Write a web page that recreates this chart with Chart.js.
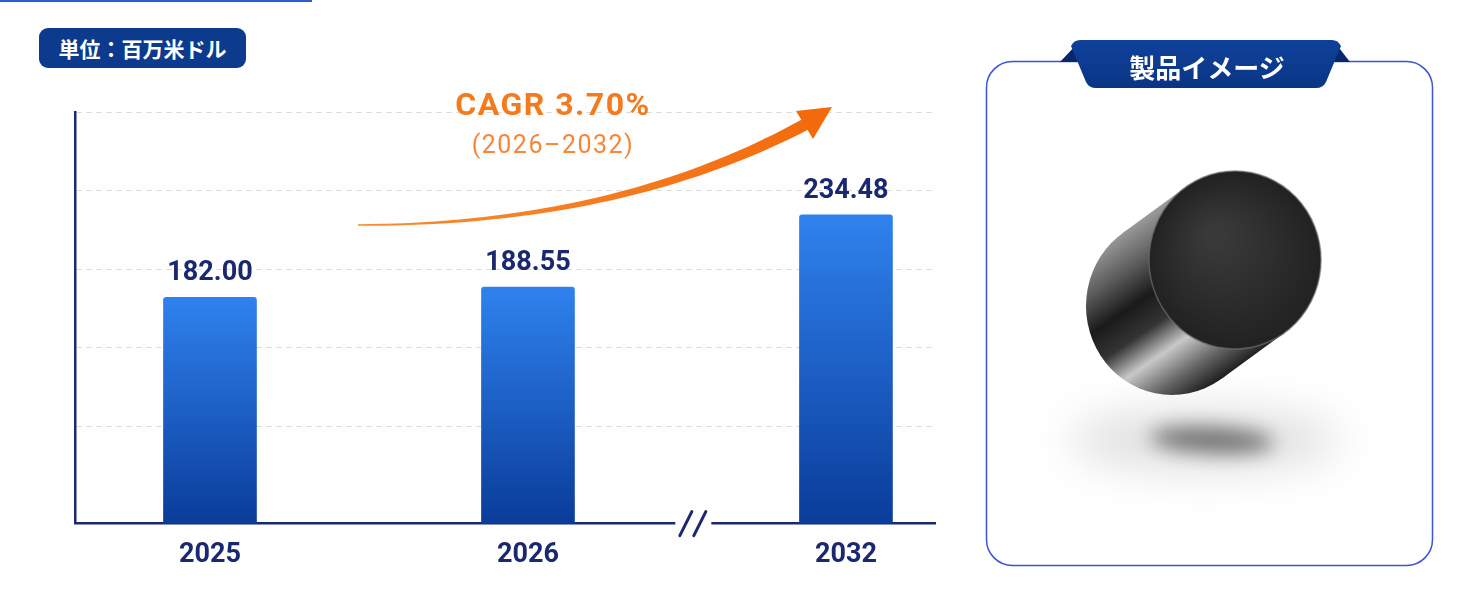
<!DOCTYPE html>
<html lang="ja">
<head>
<meta charset="utf-8">
<script src="https://cdn.jsdelivr.net/npm/chart.js@4"></script>
<style>
  body { margin: 0; background: #fefefe; width: 1462px; height: 599px; overflow: hidden; position: relative; font-family: Roboto, "Noto Sans CJK JP", sans-serif; }
  .topline { position: absolute; left: 0; top: 0; width: 312px; height: 2px; background: #2d5bd2; }
  .unit { position: absolute; left: 39px; top: 28px; width: 207px; height: 40px; border-radius: 9px; background: #0c3a8d;
          color: #fff; font: bold 21px "Noto Sans CJK JP", sans-serif; line-height: 40px; text-align: center; }
  #chart { position: absolute; left: 0; top: 0; }
  #product { position: absolute; left: 986px; top: 100px; }
  svg { position: absolute; left: 0; top: 0; }
</style>
</head>
<body>
<div class="topline"></div>
<div class="unit">単位：百万米ドル</div>
<canvas id="chart" width="970" height="599"></canvas>

<svg width="1462" height="599">
  <rect x="986.5" y="61.5" width="446" height="504" rx="26" fill="#fff" stroke="#3d52d5" stroke-width="1.5"/>
</svg>
<canvas id="product" width="448" height="440"></canvas>
<svg width="1462" height="599">
  <defs>
    <linearGradient id="tabFill" x1="0" y1="0" x2="0" y2="1">
      <stop offset="0" stop-color="#0f419a"/>
      <stop offset="1" stop-color="#0a3584"/>
    </linearGradient>
  </defs>
  <polygon points="1060,62 1082,62 1077,44" fill="#07296c"/>
  <polygon points="1350,62 1328,62 1336,44" fill="#07296c"/>
  <path d="M1080,40 L1332,40 Q1338,40 1341,46 L1326,82 Q1323,88 1316,88 L1096,88 Q1089,88 1086,82 L1071,46 Q1074,40 1080,40 Z" fill="url(#tabFill)"/>
  <text x="1207" y="66" fill="#fff" font-family="Noto Sans CJK JP, sans-serif" font-weight="bold" font-size="26"
        text-anchor="middle" dominant-baseline="central">製品イメージ</text>
</svg>

<script>
// chart values
const categories = ['2025', '2026', '2032'];
const marketValues = [182.00, 188.55, 234.48];
const gridValues = [100, 150, 200, 250, 300];
const cagrLabel = 'CAGR 3.70%';
const cagrPeriod = '(2026–2032)';

const NAVY = '#1a2870';
const ORANGE = '#f47a1e';

// bar fill: bright blue at the top of each bar, deep blue at the base
function barGradient(context) {
  const chart = context.chart;
  const yScale = chart.scales.y;
  if (!yScale || !context.raw) return '#1f63d6';
  const top = yScale.getPixelForValue(context.raw.y);
  const base = yScale.getPixelForValue(yScale.min);
  if (!isFinite(top) || !isFinite(base) || top === base) return '#1f63d6';
  const g = chart.ctx.createLinearGradient(0, top, 0, base);
  g.addColorStop(0, '#2f82ee');
  g.addColorStop(1, '#0a3c9a');
  return g;
}

// value labels above bars
const valueLabels = {
  id: 'valueLabels',
  afterDatasetsDraw(chart) {
    const ctx = chart.ctx;
    const meta = chart.getDatasetMeta(0);
    ctx.save();
    ctx.font = 'bold 27px Roboto';
    ctx.fillStyle = NAVY;
    ctx.textAlign = 'center';
    ctx.textBaseline = 'alphabetic';
    meta.data.forEach((bar, i) => {
      ctx.fillText(marketValues[i].toFixed(2), bar.x, bar.y - 17);
    });
    ctx.restore();
  }
};

// "//" break on the x axis between 2026 and 2032
const axisBreak = {
  id: 'axisBreak',
  afterDraw(chart) {
    const ctx = chart.ctx;
    const x = chart.scales.x.getPixelForValue(1.52);
    const y = chart.chartArea.bottom;
    ctx.save();
    ctx.fillStyle = '#fefefe';
    ctx.fillRect(x - 18, y - 4, 36, 8);
    ctx.strokeStyle = NAVY;
    ctx.lineWidth = 3;
    ctx.lineCap = 'round';
    ctx.beginPath();
    ctx.moveTo(x - 13.5, y + 12); ctx.lineTo(x - 1.5, y - 12);
    ctx.moveTo(x + 0.5, y + 12); ctx.lineTo(x + 12.5, y - 12);
    ctx.stroke();
    ctx.restore();
  }
};

// CAGR arrow and text
const cagrArrow = {
  id: 'cagrArrow',
  afterDraw(chart) {
    const ctx = chart.ctx;
    const p0 = { x: 358, y: 225 }, p1 = { x: 618, y: 225 }, p2 = { x: 806, y: 124 };
    const pt = t => ({
      x: (1 - t) * (1 - t) * p0.x + 2 * (1 - t) * t * p1.x + t * t * p2.x,
      y: (1 - t) * (1 - t) * p0.y + 2 * (1 - t) * t * p1.y + t * t * p2.y
    });
    const left = [], right = [];
    const n = 40;
    for (let i = 0; i <= n; i++) {
      const t = i / n;
      const a = pt(Math.max(0, t - 0.01)), b = pt(Math.min(1, t + 0.01));
      const dx = b.x - a.x, dy = b.y - a.y, len = Math.hypot(dx, dy);
      const nx = -dy / len, ny = dx / len;
      const w = 0.8 + 5.2 * Math.pow(t, 1.3);
      const p = pt(t);
      left.push({ x: p.x + nx * w, y: p.y + ny * w });
      right.push({ x: p.x - nx * w, y: p.y - ny * w });
    }
    ctx.save();
    const grad = ctx.createLinearGradient(358, 0, 832, 0);
    grad.addColorStop(0, '#f98d32');
    grad.addColorStop(1, '#f26a0c');
    ctx.fillStyle = grad;
    ctx.beginPath();
    left.forEach((p, i) => i ? ctx.lineTo(p.x, p.y) : ctx.moveTo(p.x, p.y));
    for (let i = right.length - 1; i >= 0; i--) ctx.lineTo(right[i].x, right[i].y);
    ctx.closePath();
    ctx.fill();
    // head
    ctx.fillStyle = '#f26a0c';
    ctx.beginPath();
    ctx.moveTo(832, 107);
    ctx.lineTo(796, 111);
    ctx.lineTo(813, 139);
    ctx.closePath();
    ctx.fill();

    ctx.textAlign = 'center';
    ctx.textBaseline = 'alphabetic';
    ctx.fillStyle = ORANGE;
    ctx.font = 'bold 32px Roboto';
    ctx.letterSpacing = '1.5px';
    ctx.fillText(cagrLabel, 553, 115);
    ctx.font = '25px Roboto';
    ctx.fillStyle = '#f5863a';
    ctx.letterSpacing = '1.5px';
    ctx.fillText(cagrPeriod, 553, 153);
    ctx.restore();
  }
};

// product image: dark cylinder floating above its shadow
function drawProduct() {
  const c = document.getElementById('product');
  const g = c.getContext('2d');
  g.translate(-986, -100);

  // shadow
  g.save();
  g.filter = 'blur(22px)';
  g.fillStyle = 'rgba(0,0,0,0.13)';
  g.beginPath(); g.ellipse(1205, 440, 135, 30, 0, 0, Math.PI * 2); g.fill();
  g.filter = 'blur(10px)';
  g.fillStyle = 'rgba(0,0,0,0.5)';
  g.beginPath(); g.ellipse(1212, 440, 62, 13, 0.05, 0, Math.PI * 2); g.fill();
  g.restore();

  const F = { x: 1235, y: 260 }, B = { x: 1172, y: 306 };
  const rx = 86, ry = 89;
  const dx = B.x - F.x, dy = B.y - F.y;
  const t0 = Math.atan(-ry * dx / (rx * dy));
  const e = t => ({ x: rx * Math.cos(t), y: ry * Math.sin(t) });
  const e1 = e(t0), e2 = e(t0 + Math.PI);
  const M = { x: (F.x + B.x) / 2, y: (F.y + B.y) / 2 };

  const body = g.createLinearGradient(M.x + e2.x, M.y + e2.y, M.x + e1.x, M.y + e1.y);
  body.addColorStop(0, '#9a9a9a');
  body.addColorStop(0.2, '#5a5a5a');
  body.addColorStop(0.38, '#1a1a1a');
  body.addColorStop(0.54, '#343434');
  body.addColorStop(0.7, '#c8c8c8');
  body.addColorStop(0.86, '#686868');
  body.addColorStop(1, '#222222');
  g.fillStyle = body;
  g.beginPath(); g.ellipse(B.x, B.y, rx, ry, 0, 0, Math.PI * 2); g.fill();
  g.beginPath();
  g.moveTo(F.x + e1.x, F.y + e1.y);
  g.lineTo(F.x + e2.x, F.y + e2.y);
  g.lineTo(B.x + e2.x, B.y + e2.y);
  g.lineTo(B.x + e1.x, B.y + e1.y);
  g.closePath(); g.fill();

  // front face
  const face = g.createRadialGradient(F.x - 20, F.y - 25, 10, F.x, F.y, rx);
  face.addColorStop(0, '#393939');
  face.addColorStop(1, '#222222');
  g.fillStyle = face;
  g.beginPath(); g.ellipse(F.x, F.y, rx, ry, 0, 0, Math.PI * 2); g.fill();
  g.strokeStyle = 'rgba(110,110,110,0.7)';
  g.lineWidth = 1.5;
  g.stroke();
}
drawProduct();

new Chart(document.getElementById('chart'), {
  type: 'bar',
  data: {
    datasets: [{
      data: marketValues.map((v, i) => ({ x: i, y: v })),
      backgroundColor: barGradient,
      barThickness: 93,
      borderRadius: { topLeft: 3, topRight: 3 },
      borderSkipped: 'bottom'
    }]
  },
  options: {
    responsive: false,
    animation: false,
    layout: { padding: { left: 75, right: 35, top: 112, bottom: 13 } },
    plugins: { legend: { display: false }, tooltip: { enabled: false } },
    scales: {
      x: {
        type: 'linear',
        offset: false,
        min: -0.4245,
        max: 2.28,
        afterBuildTicks: scale => { scale.ticks = categories.map((c, i) => ({ value: i })); },
        ticks: {
          autoSkip: false,
          padding: 15,
          color: NAVY,
          font: { family: 'Roboto', weight: 'bold', size: 27 },
          callback: v => categories[v]
        },
        grid: { display: false, drawTicks: false },
        border: { display: true, color: NAVY, width: 2.5 }
      },
      y: {
        min: 38,
        max: 300,
        afterBuildTicks: scale => { scale.ticks = gridValues.map(v => ({ value: v })); },
        ticks: { display: false },
        grid: { color: '#d9d9d9', lineWidth: 1, drawTicks: false },
        border: { display: true, color: NAVY, width: 2.5, dash: [5, 5] }
      }
    }
  },
  plugins: [valueLabels, axisBreak, cagrArrow]
});
</script>
</body>
</html>
